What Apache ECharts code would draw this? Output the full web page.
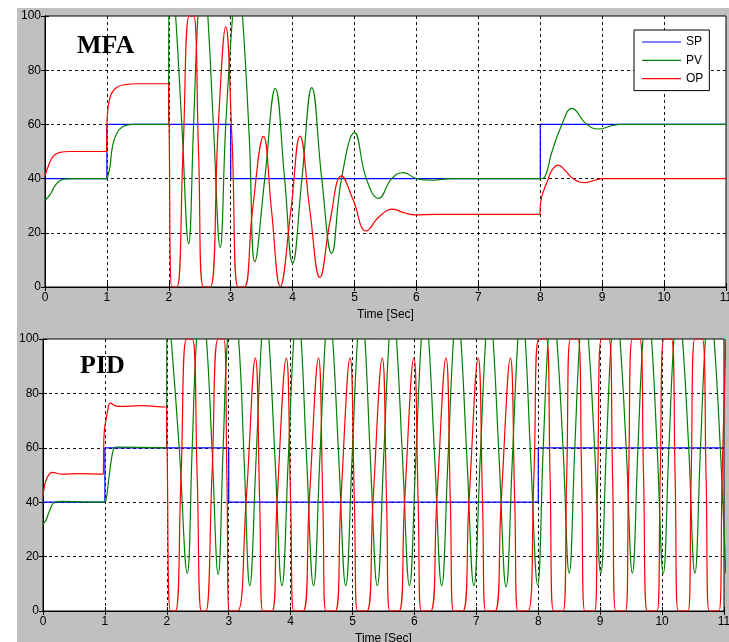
<!DOCTYPE html>
<html>
<head>
<meta charset="utf-8">
<script src="https://cdn.jsdelivr.net/npm/echarts@6/dist/echarts.min.js"></script>
<style>
html, body { margin: 0; padding: 0; background: #fff; }
#chart { width: 729px; height: 642px; }
</style>
</head>
<body>
<div id="chart"></div>
<script>
// [time (s), value (%)]
const mfaSP = [[0, 40], [1, 40], [1, 60], [3, 60], [3, 40], [8, 40], [8, 60], [11, 60]];
const mfaPV = [
	[0, 32], [0.08, 34], [0.16, 37.3], [0.24, 39.2], [0.35, 39.9], [0.45, 40], [0.996, 40], [1, 40],
	[1.01, 40.5], [1.05, 44.4], [1.09, 51.8], [1.16, 56.7], [1.26, 59.2], [1.43, 60], [1.996, 60], [2, 60],
	[2.004, 118], [2.01, 118], [2.06, 112], [2.11, 100], [2.21, 60], [2.32, 16], [2.4, 60], [2.47, 100],
	[2.55, 124], [2.63, 100], [2.72, 60], [2.83, 14.6], [2.92, 60], [3.03, 100], [3.11, 118], [3.19, 100],
	[3.3, 55], [3.39, 9.3], [3.55, 40], [3.72, 73.3], [3.87, 40], [4.0, 8.7], [4.15, 40], [4.31, 73.6],
	[4.47, 40], [4.63, 12.4], [4.79, 40], [5.0, 57], [5.19, 40], [5.39, 32.7], [5.6, 40], [5.79, 42.2],
	[6.0, 40], [6.27, 39.4], [6.55, 40], [7.996, 40], [8, 40], [8.06, 40.3], [8.19, 50], [8.35, 60],
	[8.51, 65.9], [8.75, 60], [8.94, 58.3], [9.15, 59.5], [9.3, 60], [11, 60]
];
const mfaOP = [
	[0, 41], [0.05, 44.4], [0.135, 48.3], [0.24, 49.7], [0.4, 50], [0.996, 50], [1, 50], [1.004, 62],
	[1.05, 70], [1.15, 73.5], [1.3, 74.7], [1.5, 75], [1.996, 75], [2, 75], [2.004, 60], [2.05, 0],
	[2.13, 0], [2.23, 50], [2.33, 100], [2.4, 100], [2.48, 50], [2.56, 0], [2.67, 0], [2.8, 60],
	[2.92, 96], [3.02, 55], [3.12, 0], [3.22, 0], [3.35, 28], [3.53, 55.6], [3.66, 28], [3.8, 0.2],
	[3.97, 28], [4.12, 55.7], [4.28, 28], [4.44, 3.5], [4.61, 25], [4.79, 41], [4.98, 32], [5.19, 20.7],
	[5.4, 26], [5.62, 28.7], [5.8, 27.4], [5.98, 26.6], [6.3, 26.8], [7.996, 26.8], [8, 26.8], [8.004, 30.9],
	[8.13, 40], [8.2, 43.5], [8.29, 45], [8.4, 43], [8.53, 40], [8.72, 38.5], [8.88, 39.4], [9.02, 40],
	[9.4, 40], [11, 40]
];

const pidSP = [[0, 40], [1, 40], [1, 60], [3, 60], [3, 40], [8, 40], [8, 60], [11, 60]];
const pidPV = [
	[0, 32], [0.05, 33.5], [0.1, 36.5], [0.19, 40], [0.3, 40.3], [0.996, 40], [1, 40], [1.02, 41],
	[1.06, 48], [1.1, 55], [1.14, 59.5], [1.18, 60.3], [1.996, 60], [2, 60], [2.004, 118], [2.01, 118],
	[2.07, 100], [2.2, 60], [2.33, 13.9], [2.41, 60], [2.48, 100], [2.56, 115], [2.64, 100], [2.73, 60],
	[2.83, 13.5], [2.91, 60], [2.98, 100], [3.07, 115], [3.16, 100], [3.25, 55], [3.34, 9.3],
	[3.44, 55], [3.53, 100], [3.59, 113], [3.65, 100], [3.75, 55], [3.86, 9.3],
	[3.96, 55], [4.05, 100], [4.11, 113], [4.17, 100], [4.26, 55], [4.37, 9.3],
	[4.47, 55], [4.56, 100], [4.62, 113], [4.68, 100], [4.78, 55], [4.89, 9.3],
	[4.99, 55], [5.08, 100], [5.14, 113], [5.2, 100], [5.29, 55], [5.4, 9.3],
	[5.5, 55], [5.59, 100], [5.65, 113], [5.71, 100], [5.81, 55], [5.92, 9.3],
	[6.02, 55], [6.11, 100], [6.17, 113], [6.23, 100], [6.33, 55], [6.44, 9.3],
	[6.54, 55], [6.63, 100], [6.69, 113], [6.75, 100], [6.85, 55], [6.96, 9.3],
	[7.06, 55], [7.15, 100], [7.21, 113], [7.27, 100], [7.37, 55], [7.48, 8.9],
	[7.58, 55], [7.67, 100], [7.73, 113], [7.79, 100], [7.88, 55], [7.99, 9.6],
	[8.08, 60], [8.16, 100], [8.23, 115], [8.3, 100], [8.4, 60], [8.5, 13.9],
	[8.59, 60], [8.67, 100], [8.74, 115], [8.81, 100], [8.91, 60], [9.01, 13.9],
	[9.1, 60], [9.18, 100], [9.25, 115], [9.32, 100], [9.42, 60], [9.52, 13.9],
	[9.61, 60], [9.69, 100], [9.76, 115], [9.83, 100], [9.92, 60], [10.02, 13.9],
	[10.11, 60], [10.19, 100], [10.26, 115], [10.33, 100], [10.43, 60], [10.53, 13.9],
	[10.62, 60], [10.7, 100], [10.77, 115], [10.84, 100], [10.94, 60], [11.03, 13.9]
];
const pidOP = [
	[0, 42], [0.004, 43], [0.04, 47.5], [0.1, 50.3], [0.15, 51], [0.3, 50.3], [0.6, 50.5], [0.976, 50.3],
	[0.98, 50.3], [0.984, 64], [1.04, 73], [1.09, 76.4], [1.2, 75.2], [1.6, 75.5], [1.996, 75], [2, 75],
	[2.004, 60], [2.06, 0], [2.14, 0], [2.23, 50], [2.32, 100], [2.41, 100], [2.49, 50], [2.56, 0],
	[2.63, 0], [2.73, 50], [2.83, 100], [2.92, 100], [2.97, 50], [3.01, 0], [3.14, 0], [3.28, 40],
	[3.43, 93], [3.5, 40], [3.55, 0], [3.7, 0], [3.78, 40],
	[3.93, 93], [4.0, 40], [4.05, 0], [4.2, 0], [4.3, 40],
	[4.45, 93], [4.52, 40], [4.57, 0], [4.72, 0], [4.81, 40],
	[4.96, 93], [5.03, 40], [5.08, 0], [5.23, 0], [5.33, 40],
	[5.48, 93], [5.55, 40], [5.6, 0], [5.75, 0], [5.84, 40],
	[5.99, 93], [6.06, 40], [6.11, 0], [6.26, 0], [6.36, 40],
	[6.51, 93], [6.58, 40], [6.63, 0], [6.78, 0], [6.88, 40],
	[7.03, 93], [7.1, 40], [7.15, 0], [7.3, 0], [7.4, 40],
	[7.55, 93], [7.62, 40], [7.67, 0], [7.83, 0], [7.93, 50],
	[8.01, 100], [8.13, 100], [8.19, 50], [8.245, 0], [8.4, 0], [8.46, 50],
	[8.52, 100], [8.64, 100], [8.7, 50], [8.75, 0], [8.91, 0], [8.96, 50],
	[9.02, 100], [9.14, 100], [9.2, 50], [9.25, 0], [9.41, 0], [9.46, 50],
	[9.52, 100], [9.64, 100], [9.7, 50], [9.76, 0], [9.92, 0], [9.97, 50],
	[10.03, 100], [10.15, 100], [10.21, 50], [10.26, 0], [10.42, 0], [10.47, 50],
	[10.53, 100], [10.65, 100], [10.71, 50], [10.76, 0], [10.92, 0], [10.97, 50],
	[11.03, 100]
];

const legendNames = ['SP', 'PV', 'OP'];
const plotTitles = ['MFA', 'PID'];
const axisName = 'Time [Sec]';

const SP_COLOR = '#0000ff';
const PV_COLOR = '#008000';
const OP_COLOR = '#ff0000';
const FONT = '"Liberation Sans", Arial, sans-serif';
const TITLE_FONT = '"Liberation Serif", "Times New Roman", serif';
const GRID_LINE = { color: '#111', type: [3, 3], width: 1 };

const grids = [
	{ left: 45, top: 16, width: 681, height: 271 },
	{ left: 43, top: 339, width: 681, height: 272 },
];

function xAxes(gridIndex) {
	return [
		{
			gridIndex, type: 'value', min: 0, max: 11, interval: 1, position: 'bottom',
			name: axisName, nameLocation: 'middle', nameGap: 22,
			nameTextStyle: { color: '#000', fontSize: 12, fontFamily: FONT },
			axisLine: { lineStyle: { color: '#000', width: 1 } },
			axisTick: { inside: true, length: 4, lineStyle: { color: '#000' } },
			axisLabel: { color: '#000', fontSize: 12, fontFamily: FONT, margin: 5, showMinLabel: true, showMaxLabel: true },
			splitLine: { show: true, showMinLine: false, showMaxLine: false, lineStyle: GRID_LINE },
		},
		{
			gridIndex, type: 'value', min: 0, max: 11, interval: 1, position: 'top',
			axisLine: { lineStyle: { color: '#000', width: 1 } },
			axisTick: { inside: true, length: 4, lineStyle: { color: '#000' } },
			axisLabel: { show: false }, splitLine: { show: false },
		},
	];
}

function yAxes(gridIndex) {
	return [
		{
			gridIndex, type: 'value', min: 0, max: 100, interval: 20, position: 'left',
			axisLine: { show: true, lineStyle: { color: '#000', width: 1 } },
			axisTick: { show: true, inside: true, length: 4, lineStyle: { color: '#000' } },
			axisLabel: { color: '#000', fontSize: 12, fontFamily: FONT, margin: 4, showMinLabel: true, showMaxLabel: true },
			splitLine: { show: true, showMinLine: false, showMaxLine: false, lineStyle: GRID_LINE },
		},
		{
			gridIndex, type: 'value', min: 0, max: 100, interval: 20, position: 'right',
			axisLine: { show: true, lineStyle: { color: '#000', width: 1 } },
			axisTick: { show: true, inside: true, length: 4, lineStyle: { color: '#000' } },
			axisLabel: { show: false }, splitLine: { show: false },
		},
	];
}

function lineSeries(name, data, color, gridIndex, smooth) {
	return {
		name, type: 'line', data,
		xAxisIndex: gridIndex * 2, yAxisIndex: gridIndex * 2,
		smooth, symbol: 'none', showSymbol: false, clip: true,
		lineStyle: { color, width: 1.2 },
		itemStyle: { color },
		emphasis: { disabled: true },
	};
}

const chart = echarts.init(document.getElementById('chart'), null, { renderer: 'canvas' });
chart.setOption({
	animation: false,
	backgroundColor: '#fff',
	textStyle: { fontFamily: FONT },
	graphic: [
		{ type: 'rect', z: -100, shape: { x: 17, y: 8, width: 712, height: 634 }, style: { fill: '#c0c0c0' } },
	],
	title: [
		{ text: plotTitles[0], left: 77, top: 33, padding: 0,
			textStyle: { fontFamily: TITLE_FONT, fontWeight: 'bold', fontSize: 26, color: '#000' } },
		{ text: plotTitles[1], left: 80, top: 353, padding: 0,
			textStyle: { fontFamily: TITLE_FONT, fontWeight: 'bold', fontSize: 26, color: '#000' } },
	],
	legend: {
		data: legendNames.map((name) => ({ name, icon: 'rect' })),
		orient: 'vertical', left: 634, top: 30,
		padding: [6, 6, 6, 8], itemGap: 6.3, itemWidth: 39, itemHeight: 1.2,
		backgroundColor: '#fff', borderColor: '#000', borderWidth: 1, borderRadius: 0,
		textStyle: { color: '#000', fontSize: 12, fontFamily: FONT, lineHeight: 12 },
		selectedMode: false,
	},
	grid: grids.map((g) => ({ ...g, show: true, backgroundColor: '#fff', borderColor: '#000', borderWidth: 1, outerBoundsMode: 'none', containLabel: false })),
	xAxis: [...xAxes(0), ...xAxes(1)],
	yAxis: [...yAxes(0), ...yAxes(1)],
	series: [
		lineSeries('SP', mfaSP, SP_COLOR, 0, false),
		lineSeries('PV', mfaPV, PV_COLOR, 0, 0.45),
		lineSeries('OP', mfaOP, OP_COLOR, 0, 0.45),
		lineSeries('PID SP', pidSP, SP_COLOR, 1, false),
		lineSeries('PID PV', pidPV, PV_COLOR, 1, 0.45),
		lineSeries('PID OP', pidOP, OP_COLOR, 1, 0.45),
	],
});
</script>
</body>
</html>
